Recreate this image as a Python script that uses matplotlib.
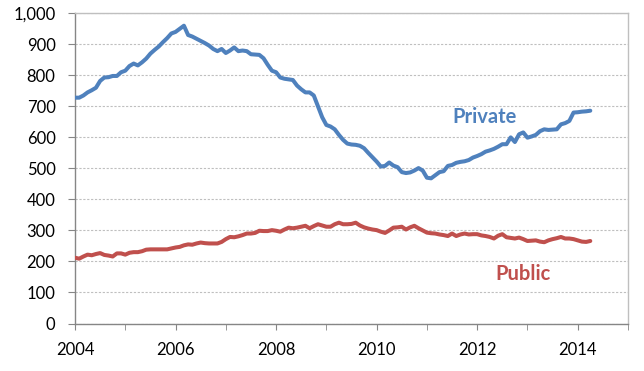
import matplotlib
matplotlib.use("Agg")
import matplotlib.pyplot as plt
from matplotlib.ticker import FuncFormatter, MultipleLocator
import numpy as np

plt.rcParams['font.family'] = ['Lato', 'DejaVu Sans']

start_year = 2004
private = [728, 728, 735, 745, 752, 760, 782, 793, 794, 798, 798, 810,
           815, 830, 838, 832, 842, 854, 870, 882, 893, 907, 920, 935,
           940, 950, 960, 930, 925, 918, 911, 904, 896, 885, 878, 885,
           872, 880, 890, 878, 880, 878, 868, 867, 866, 855, 834, 815,
           810, 793, 789, 787, 785, 767, 755, 745, 745, 735, 700, 665,
           640, 635, 626, 608, 592, 580, 577, 576, 573, 565, 550, 536,
           522, 506, 508, 519, 509, 504, 488, 485, 487, 493, 501, 493,
           470, 468, 478, 488, 491, 508, 511, 518, 521, 523, 527, 535,
           540, 546, 554, 558, 563, 570, 578, 578, 600, 585, 610, 616,
           599, 603, 608, 620, 626, 624, 625, 626, 642, 646, 653, 680,
           681, 683, 684, 686]
public = [212, 209, 216, 222, 220, 224, 227, 221, 219, 216, 226, 226,
          222, 228, 230, 230, 233, 238, 239, 239, 239, 239, 239, 242,
          245, 247, 252, 255, 254, 258, 261, 259, 258, 258, 258, 263,
          272, 279, 278, 281, 285, 290, 290, 292, 299, 298, 298, 301,
          299, 296, 303, 309, 307, 309, 312, 315, 307, 314, 320, 316,
          312, 312, 320, 325, 320, 320, 321, 325, 316, 310, 306, 303,
          301, 296, 292, 300, 309, 310, 312, 303, 310, 315, 307, 300,
          293, 291, 290, 287, 285, 282, 290, 282, 287, 290, 287, 288,
          288, 284, 282, 279, 274, 283, 288, 278, 276, 274, 277, 272,
          266, 267, 268, 264, 262, 268, 272, 275, 279, 274, 274, 272,
          268, 264, 263, 266]
x_ticks = [2004, 2006, 2008, 2010, 2012, 2014]

t_priv = start_year + np.arange(len(private)) / 12.0
t_pub = start_year + np.arange(len(public)) / 12.0

blue = '#4F81BD'
red = '#C0504D'

fig = plt.figure(figsize=(6.44, 3.71), dpi=100)
ax = fig.add_axes([75/644, 1 - 323.5/371, (628-75)/644, (323.5-13.3)/371])

ax.plot(t_priv, private, color=blue, lw=2.9, solid_capstyle='round', zorder=3)
ax.plot(t_pub, public, color=red, lw=2.9, solid_capstyle='round', zorder=3)

ax.set_xlim(2004, 2015)
ax.set_ylim(0, 1000)
ax.yaxis.set_major_locator(MultipleLocator(100))
ax.xaxis.set_major_locator(MultipleLocator(1))
ax.set_xticks(x_ticks, labels=[str(v) for v in x_ticks])
ax.set_xticks(range(2004, 2016), minor=True)
ax.yaxis.set_major_formatter(FuncFormatter(lambda v, p: f"{int(v):,}"))

ax.grid(axis='y', color='#BFBFBF', linestyle=(0, (2, 1.5)), linewidth=0.8)
for s in ['left', 'bottom']:
    ax.spines[s].set_color('#868686')
    ax.spines[s].set_linewidth(1.0)
for s in ['top', 'right']:
    ax.spines[s].set_color('#BFBFBF')
    ax.spines[s].set_linewidth(1.0)

ax.tick_params(axis='x', which='both', direction='out', length=4, color='#868686',
               labelsize=12, pad=9, labelcolor='black')
ax.tick_params(axis='y', direction='out', length=5, color='#868686',
               labelsize=12, pad=9, labelcolor='black')

ax.text(2012.15, 665, 'Private', color=blue, fontsize=14.5, fontweight='bold',
        ha='center', va='center')
ax.text(2012.92, 161, 'Public', color=red, fontsize=14.5, fontweight='bold',
        ha='center', va='center')

fig.savefig('out.png', dpi=100)
